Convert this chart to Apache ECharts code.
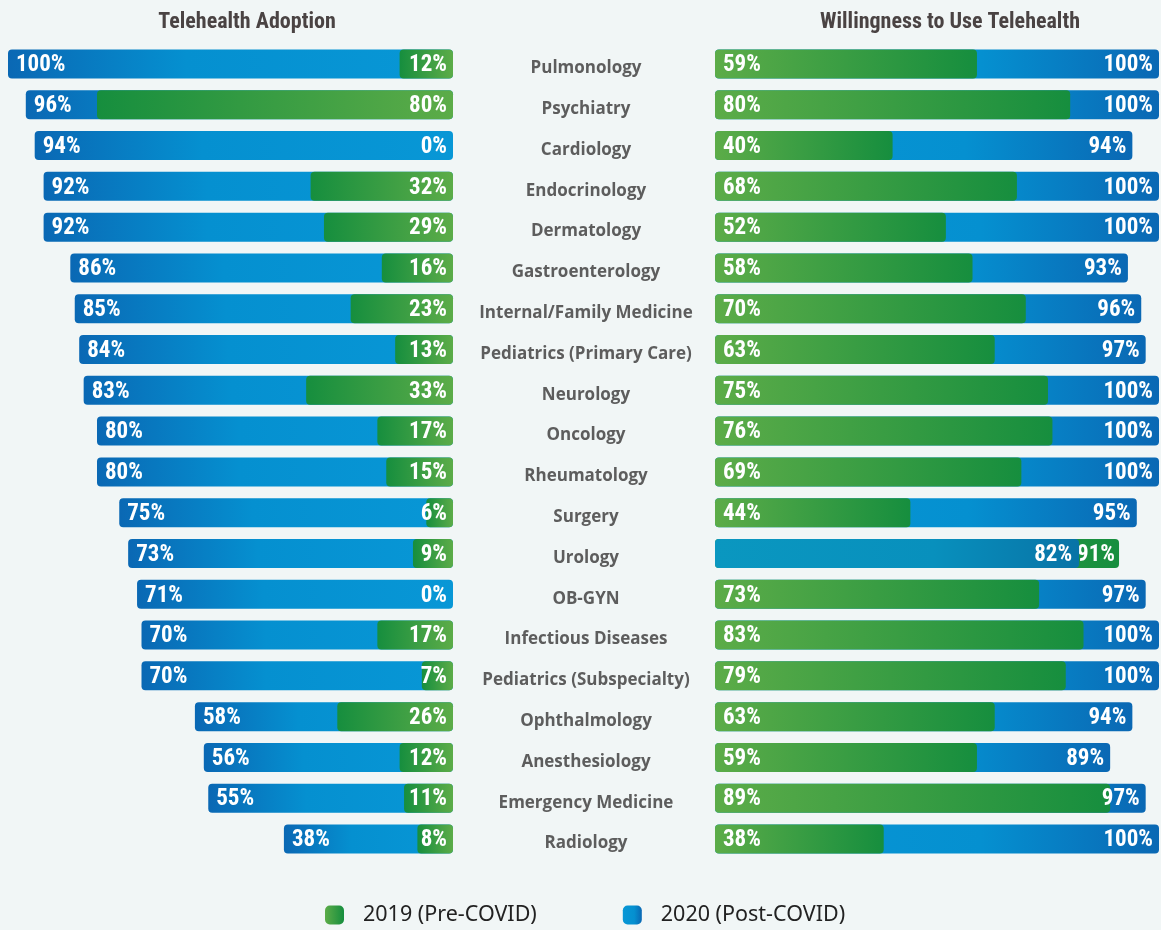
<!DOCTYPE html>
<html>
<head>
<meta charset="utf-8">
<script src="https://cdn.jsdelivr.net/npm/echarts@6/dist/echarts.min.js"></script>
<style>
html,body{margin:0;padding:0;background:#f1f6f6;}
#chart{width:1161px;height:930px;}
</style>
</head>
<body>
<div id="chart"></div>
<script>
var categories = ['Pulmonology','Psychiatry','Cardiology','Endocrinology','Dermatology','Gastroenterology','Internal/Family Medicine','Pediatrics (Primary Care)','Neurology','Oncology','Rheumatology','Surgery','Urology','OB-GYN','Infectious Diseases','Pediatrics (Subspecialty)','Ophthalmology','Anesthesiology','Emergency Medicine','Radiology'];
var adoption2020 = [100,96,94,92,92,86,85,84,83,80,80,75,73,71,70,70,58,56,55,38];
var adoption2019 = [12,80,0,32,29,16,23,13,33,17,15,6,9,0,17,7,26,12,11,8];
var willing2019 = [59,80,40,68,52,58,70,63,75,76,69,44,91,73,83,79,63,59,89,38];
var willing2020 = [100,100,94,100,100,93,96,97,100,100,100,95,82,97,100,100,94,89,97,100];
var titles = ['Telehealth Adoption','Willingness to Use Telehealth'];
var NAME19 = '2019 (Pre-COVID)';
var NAME20 = '2020 (Post-COVID)';

var G = echarts.graphic.LinearGradient;
function grad(stops){ return new G(0,0,1,0,stops.map(function(s){return {offset:s[0],color:s[1]};})); }
var greenLR = grad([[0,'#5cac48'],[1,'#168e3e']]);      // light -> dark (right panel)
var greenRL = grad([[0,'#168e3e'],[1,'#5cac48']]);      // dark -> light (left panel)
var blueLR = grad([[0,'#0897d6'],[0.6,'#0590d0'],[1,'#0a68b4']]);
var blueRL = grad([[0,'#0a68b4'],[0.4,'#0590d0'],[1,'#0897d6']]);
var tealLR = grad([[0,'#0a97c0'],[0.6,'#0890bd'],[1,'#0873a6']]);

var COND = '"Roboto Condensed", "Open Sans Condensed", "DejaVu Sans Condensed", sans-serif';
var labelFont = {fontFamily:COND, fontWeight:'bold', fontSize:23, color:'#ffffff'};
function pct(p){ return p.value + '%'; }
var BW = 29, RAD = 4, LOFF = [0, 1.5];

var option = {
  backgroundColor:'#f1f6f6',
  animation:false,
  title: [
    {text:titles[0], left:242, top:6, textAlign:'center', textStyle:{fontFamily:COND, fontWeight:'bold', fontSize:22, color:'#4a4343'}},
    {text:titles[1], left:945, top:6, textAlign:'center', textStyle:{fontFamily:COND, fontWeight:'bold', fontSize:22, color:'#4a4343'}}
  ],
  legend: {
    data:[NAME19, NAME20], left:325, top:904, padding:0, itemWidth:19, itemHeight:19, itemGap:86,
    icon:'roundRect',
    textStyle:{fontFamily:'Noto Sans', fontSize:21.5, color:'#222222', padding:[0,0,0,14]}
  },
  grid: [
    {left:8, width:445, top:43.6, height:815.8},
    {left:715, width:444, top:43.6, height:815.8}
  ],
  xAxis: [
    {gridIndex:0, type:'value', min:0, max:100, inverse:true, show:false},
    {gridIndex:1, type:'value', min:0, max:100, show:false}
  ],
  yAxis: [
    {gridIndex:0, type:'category', data:categories, inverse:true, show:false},
    {gridIndex:1, type:'category', data:categories, inverse:true,
     axisLine:{show:false}, axisTick:{show:false},
     axisLabel:{align:'center', margin:129,
       formatter:function(v){ return '{c|' + v + '}'; },
       rich:{c:{padding:[9,0,0,0], fontFamily:'Open Sans', fontWeight:'bold', fontSize:17, color:'#5d5d5d'}}}}
  ],
  series: [
    // right panel
    {name:NAME20, type:'bar', xAxisIndex:1, yAxisIndex:1, z:2, barWidth:BW, barGap:'-100%',
     data: willing2020.map(function(v,i){ return v < willing2019[i] ? {value:v, label:{show:false}} : v; }),
     itemStyle:{color:blueLR, borderRadius:RAD},
     label:{show:true, position:'insideRight', distance:6, offset:LOFF, formatter:pct, textStyle:labelFont}},
    {name:NAME19, type:'bar', xAxisIndex:1, yAxisIndex:1, z:2, barWidth:BW, barGap:'-100%',
     data: willing2019.map(function(v,i){ return v > willing2020[i] ? {value:v, label:{position:'insideRight', distance:4}} : v; }),
     itemStyle:{color:greenLR, borderRadius:RAD},
     label:{show:true, position:'insideLeft', distance:8, offset:LOFF, formatter:pct, textStyle:labelFont}},
    {name:NAME20, type:'bar', xAxisIndex:1, yAxisIndex:1, z:3, barWidth:BW, barGap:'-100%',
     data: willing2020.map(function(v,i){ return v < willing2019[i] ? v : null; }),
     itemStyle:{color:tealLR, borderRadius:RAD},
     label:{show:true, position:'insideRight', distance:7, offset:LOFF, formatter:pct, textStyle:labelFont}},
    // left panel
    {name:NAME20, type:'bar', xAxisIndex:0, yAxisIndex:0, z:2, barWidth:BW, barGap:'-100%',
     data: adoption2020,
     itemStyle:{color:blueRL, borderRadius:RAD},
     label:{show:true, position:'insideLeft', distance:8, offset:LOFF, formatter:pct, textStyle:labelFont}},
    {name:NAME19, type:'bar', xAxisIndex:0, yAxisIndex:0, z:2, barWidth:BW, barGap:'-100%',
     data: adoption2019,
     itemStyle:{color:greenRL, borderRadius:RAD},
     label:{show:true, position:'insideRight', distance:6, offset:LOFF, formatter:pct, textStyle:labelFont}}
  ]
};
var chart = echarts.init(document.getElementById('chart'), null, {renderer:'canvas'});
chart.setOption(option);
</script>
</body>
</html>
